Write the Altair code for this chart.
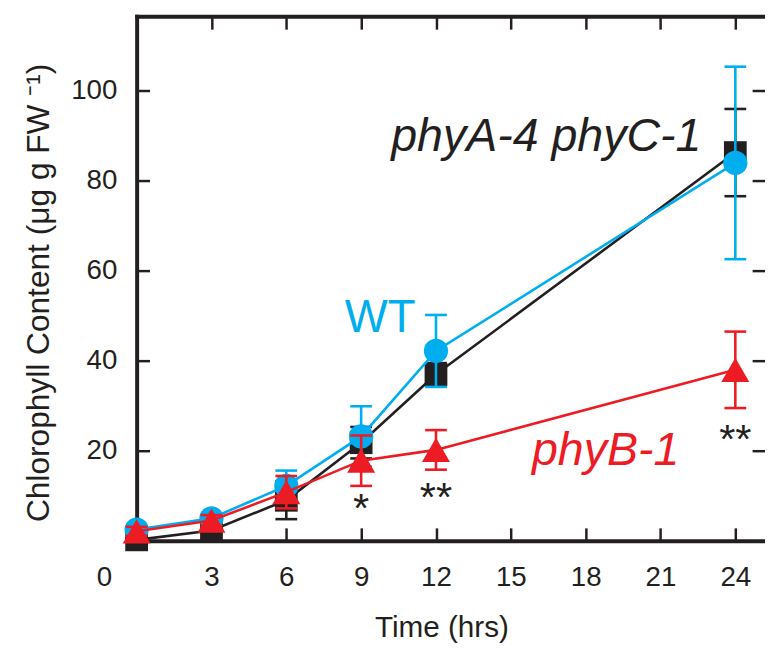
import altair as alt
import pandas as pd

# ---------------- data ----------------
times = [0, 3, 6, 9, 12, 24]
wt_mean = [2.5, 5.0, 12.2, 23.2, 42.2, 84.0]
wt_err = [0.6, 0.8, 3.4, 6.7, 8.0, 21.4]
phyb_mean = [2.1, 4.5, 10.8, 17.8, 20.2, 38.0]
phyb_err = [1.0, 1.2, 3.6, 5.6, 4.4, 8.5]
phyac_mean = [0.2, 2.3, 9.0, 21.8, 37.0, 86.3]
phyac_err = [0.4, 0.6, 4.2, 3.5, 2.5, 9.7]

sig_times = [9, 12, 24]
sig_marks = ["*", "**", "**"]
sig_y = [4.2, 6.6, 19.6]

x_ticks = [0, 3, 6, 9, 12, 15, 18, 21, 24]
x_top_ticks = [3, 6, 9, 12, 15, 18, 21, 24]
y_ticks = [20, 40, 60, 80, 100]

label_text = ["phyA-4 phyC-1", "WT", "phyB-1"]
label_t = [16.42, 9.76, 18.8]
label_y = [86.6, 46.5, 16.8]

# ---------------- style ----------------
FONT = "Liberation Sans, Arial, Helvetica, sans-serif"
INK = "#231F20"
CYAN = "#00AEEF"
RED = "#ED1C24"
TICK_IN = {"expr": "-13"}

xs = alt.Scale(domain=[0, 25.19], nice=False, zero=False)
ys = alt.Scale(domain=[0, 116.6], nice=False, zero=False)

common_axis = dict(
    grid=False, domainColor=INK, tickColor=INK, tickWidth=2.5,
    tickSize=TICK_IN, labelFont=FONT, labelColor=INK, labelFontSize=28,
    titleFont=FONT, titleColor=INK, titleFontWeight="normal",
)

x_bottom = alt.Axis(
    orient="bottom", values=x_ticks, title="Time (hrs)",
    domainWidth=4, domainCap="square", labelPadding=36, labelBaseline="top",
    labelFlush=False, labelOverlap=False,
    labelOffset={"condition": {"test": "datum.value === 0", "value": -33}, "value": 0},
    titleX=308, titleY=97, titleBaseline="alphabetic", titleAlign="center",
    titleFontSize=30,
    **common_axis,
)
y_left = alt.Axis(
    orient="left", values=y_ticks, title="Chlorophyll Content (μg g FW ⁻¹)",
    domainWidth=4, domainCap="square", labelPadding=33, labelOverlap=False,
    labelFlush=False,
    titleAngle=270, titleX=-89, titleY=279, titleBaseline="alphabetic",
    titleAlign="center", titleFontSize=32,
    **common_axis,
)
x_top = alt.Axis(
    orient="top", values=x_top_ticks, title=None, labels=False,
    domainWidth=4, domainCap="square", **common_axis,
)
y_right = alt.Axis(
    orient="right", values=y_ticks, title=None, labels=False, domain=False,
    **common_axis,
)


def series_df(mean, err):
    return pd.DataFrame({
        "t": times, "mean": mean, "err": err,
        "lo": [m - e for m, e in zip(mean, err)],
        "hi": [m + e for m, e in zip(mean, err)],
    })


def caps_df(mean, err):
    rows = []
    for t, m, e in zip(times, mean, err):
        rows.append({"t": t, "v": m - e})
        rows.append({"t": t, "v": m + e})
    return pd.DataFrame(rows)


def series_layers(mean, err, color, shape, size, xaxis=None, yaxis=None):
    d = series_df(mean, err)
    c = caps_df(mean, err)
    line = alt.Chart(d).mark_line(color=color, strokeWidth=2.6).encode(
        x=alt.X("t:Q", scale=xs, axis=xaxis),
        y=alt.Y("mean:Q", scale=ys, axis=yaxis),
    )
    rule = alt.Chart(d).mark_rule(color=color, strokeWidth=2.6).encode(
        x=alt.X("t:Q", scale=xs, axis=None),
        y=alt.Y("lo:Q", scale=ys, axis=None),
        y2="hi:Q",
    )
    caps = alt.Chart(c).mark_tick(
        color=color, orient="horizontal", size=22, thickness=2.6, opacity=1
    ).encode(
        x=alt.X("t:Q", scale=xs, axis=None),
        y=alt.Y("v:Q", scale=ys, axis=None),
    )
    pts = alt.Chart(d).mark_point(
        shape=shape, filled=True, size=size, color=color, opacity=1, strokeWidth=0
    ).encode(
        x=alt.X("t:Q", scale=xs, axis=None),
        y=alt.Y("mean:Q", scale=ys, axis=None),
    )
    return [line, rule, caps, pts]


black_layers = series_layers(phyac_mean, phyac_err, INK, "square", 529,
                             xaxis=x_bottom, yaxis=y_left)
cyan_layers = series_layers(wt_mean, wt_err, CYAN, "circle", 600,
                            xaxis=x_top, yaxis=y_right)
red_layers = series_layers(phyb_mean, phyb_err, RED, "triangle-up", 800)

lab = pd.DataFrame({"text": label_text, "t": label_t, "y": label_y})

lab_phyac = alt.Chart(lab.iloc[[0]]).mark_text(
    font=FONT, fontSize=47, fontStyle="italic", color=INK,
    align="center", baseline="alphabetic"
).encode(x=alt.X("t:Q", scale=xs, axis=None), y=alt.Y("y:Q", scale=ys, axis=None), text="text:N")

lab_wt = alt.Chart(lab.iloc[[1]]).mark_text(
    font=FONT, fontSize=46, color=CYAN, align="center", baseline="alphabetic"
).encode(x=alt.X("t:Q", scale=xs, axis=None), y=alt.Y("y:Q", scale=ys, axis=None), text="text:N")

lab_phyb = alt.Chart(lab.iloc[[2]]).mark_text(
    font=FONT, fontSize=47, fontStyle="italic", color=RED,
    align="center", baseline="alphabetic"
).encode(x=alt.X("t:Q", scale=xs, axis=None), y=alt.Y("y:Q", scale=ys, axis=None), text="text:N")

sig = pd.DataFrame({"t": sig_times, "y": sig_y, "m": sig_marks})
sig_layer = alt.Chart(sig).mark_text(
    font=FONT, fontSize=42, color=INK, align="center", baseline="alphabetic"
).encode(x=alt.X("t:Q", scale=xs, axis=None), y=alt.Y("y:Q", scale=ys, axis=None), text="m:N")

chart = alt.layer(
    *black_layers, *cyan_layers, *red_layers,
    lab_phyac, lab_wt, lab_phyb, sig_layer,
).resolve_axis(x="independent", y="independent").properties(
    width=635, height=530,
    autosize=alt.AutoSizeParams(type="none"),
    padding={"left": 130, "top": 5, "right": 0, "bottom": 105},
    background="white",
).configure_view(stroke=None)

chart.save("out.html", embed_options={"renderer": "svg", "actions": False})
